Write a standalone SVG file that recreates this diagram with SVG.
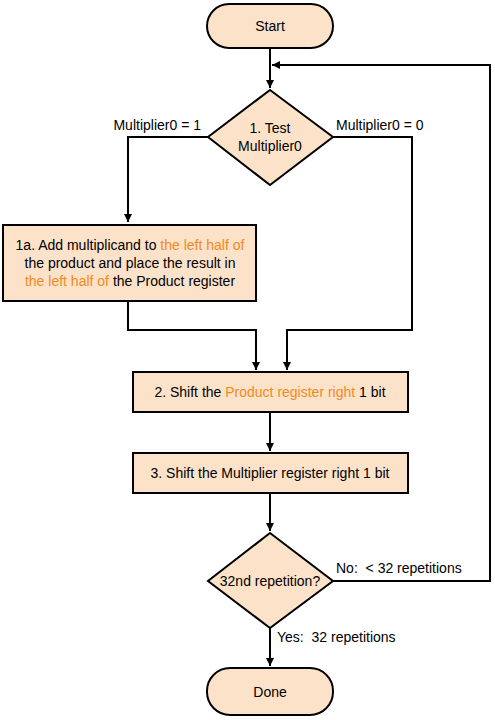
<svg xmlns="http://www.w3.org/2000/svg" width="495" height="720" viewBox="0 0 495 720">
<defs>
<marker id="ah" viewBox="0 0 10 10" refX="10" refY="5" markerWidth="4" markerHeight="4" orient="auto"><path d="M0,0 L10,5 L0,10 z" fill="#000"/></marker>
<style>
.n{fill:#FCE2C8;stroke:#000;stroke-width:2}
.t{font-family:"Liberation Sans",Arial,sans-serif;font-size:14px;fill:#000}
.o{fill:#F28A1E}
.c{fill:none;stroke:#000;stroke-width:2}
</style>
</defs>
<rect width="495" height="720" fill="#fff"/>
<g id="connectors">
<path class="c" d="M270,48 V88" marker-end="url(#ah)"/>
<path class="c" d="M208,137 H128 V222" marker-end="url(#ah)"/>
<path class="c" d="M333,137 H412 V330 H287 V370" marker-end="url(#ah)"/>
<path class="c" d="M128,301 V330 H256 V370" marker-end="url(#ah)"/>
<path class="c" d="M270,412 V451" marker-end="url(#ah)"/>
<path class="c" d="M270,493 V531" marker-end="url(#ah)"/>
<path class="c" d="M333,581 H490 V65 H272" marker-end="url(#ah)"/>
<path class="c" d="M270,628 V666" marker-end="url(#ah)"/>
</g>
<g id="start">
<rect class="n" x="207" y="4" width="126" height="44" rx="22"/>
<text class="t" x="270" y="31" text-anchor="middle">Start</text>
</g>
<g id="test">
<polygon class="n" points="270,90 333,137 270,185 208,137"/>
<text class="t" x="270" y="133" text-anchor="middle">1. Test</text>
<text class="t" x="270" y="151" text-anchor="middle">Multiplier0</text>
</g>
<g id="labels1">
<text class="t" x="201" y="130" text-anchor="end">Multiplier0 = 1</text>
<text class="t" x="336" y="130">Multiplier0 = 0</text>
</g>
<g id="add">
<rect class="n" x="3" y="225" width="253" height="76"/>
<text class="t" x="130" y="250" text-anchor="middle">1a. Add multiplicand to <tspan class="o">the left half of</tspan></text>
<text class="t" x="130" y="268" text-anchor="middle">the product and place the result in</text>
<text class="t" x="130" y="286" text-anchor="middle"><tspan class="o">the left half of</tspan> the Product register</text>
</g>
<g id="shiftp">
<rect class="n" x="133" y="372" width="275" height="40"/>
<text class="t" x="270" y="397" text-anchor="middle">2. Shift the <tspan class="o">Product register right</tspan> 1 bit</text>
</g>
<g id="shiftm">
<rect class="n" x="133" y="453" width="275" height="40"/>
<text class="t" x="270" y="478" text-anchor="middle">3. Shift the Multiplier register right 1 bit</text>
</g>
<g id="rep">
<polygon class="n" points="270,533 333,581 270,628 208,581"/>
<text class="t" x="270" y="586" text-anchor="middle">32nd repetition?</text>
</g>
<g id="labels2">
<text class="t" x="336" y="573" xml:space="preserve">No:  &lt; 32 repetitions</text>
<text class="t" x="277" y="642" xml:space="preserve">Yes:  32 repetitions</text>
</g>
<g id="done">
<rect class="n" x="207" y="668" width="126" height="47" rx="23"/>
<text class="t" x="270" y="697" text-anchor="middle">Done</text>
</g>
</svg>
